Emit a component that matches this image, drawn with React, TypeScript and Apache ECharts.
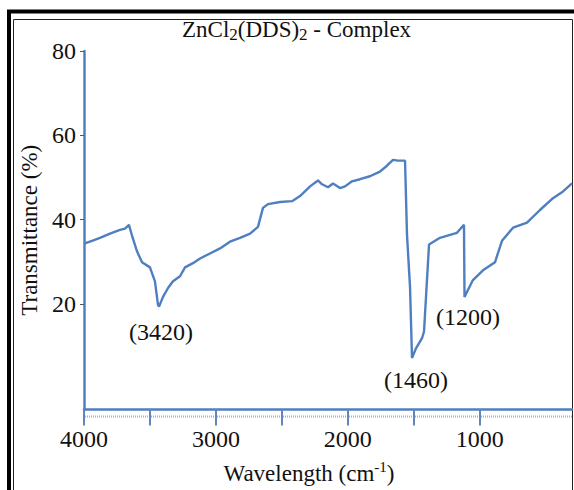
import React, { useEffect, useRef } from "react";
import * as echarts from "echarts";

const wavenumbers = [
  4000, 3939, 3879, 3803, 3727, 3689, 3659, 3636, 3598, 3560, 3500, 3462, 3439, 3431,
  3401, 3363, 3325, 3272, 3234, 3174, 3120, 3045, 2969, 2893, 2817, 2741, 2681, 2643,
  2605, 2514, 2423, 2362, 2286, 2226, 2195, 2150, 2112, 2059, 2021, 1968, 1907, 1832,
  1756, 1703, 1657, 1619, 1566, 1551, 1528, 1513, 1483, 1437, 1422, 1384, 1301, 1225,
  1172, 1119, 1115, 1051, 975, 884, 831, 747, 641, 543, 444, 368, 300,
];
const transmittance = [
  34.3, 35.0, 35.7, 36.7, 37.6, 37.9, 38.8, 36.2, 32.5, 29.9, 28.7, 25.4, 19.8, 19.4,
  21.7, 23.8, 25.4, 26.6, 28.7, 29.7, 30.8, 32.0, 33.2, 34.8, 35.7, 36.7, 38.3, 42.8,
  43.7, 44.2, 44.4, 45.6, 47.9, 49.3, 48.4, 47.7, 48.6, 47.5, 47.9, 49.1, 49.6, 50.3,
  51.4, 52.8, 54.2, 54.0, 54.0, 36.4, 24.0, 7.2, 9.5, 11.9, 13.5, 34.1, 35.7, 36.4,
  36.9, 38.8, 21.7, 25.7, 28.0, 29.9, 35.0, 38.1, 39.3, 42.3, 45.1, 46.7, 48.6,
];
const xTickValues = [4000, 3500, 3000, 2500, 2000, 1500, 1000];
const xLabelValues = [4000, 3000, 2000, 1000];
const yTickValues = [20, 40, 60, 80];
const peakLabels = ["(3420)", "(1460)", "(1200)"];

const SERIF = "'Liberation Serif', 'Times New Roman', serif";
const BLUE = "#4f7fc0";

export default function App() {
  const ref = useRef<HTMLDivElement>(null);
  useEffect(() => {
    if (!ref.current) return;
    const chart = echarts.init(ref.current, undefined, { renderer: "svg" });
    const data = wavenumbers.map((w, i) => [w, transmittance[i]]);
    const textBase = { fontFamily: SERIF, fontWeight: "normal" as const, color: "#111" };
    chart.setOption({
      animation: false,
      backgroundColor: "#ffffff",
      title: {
        text: "{n|ZnCl}{s|2}{n|(DDS)}{s|2}{n| - Complex}",
        left: 182,
        top: 15,
        padding: 0,
        textStyle: {
          fontWeight: "normal",
          rich: {
            n: { ...textBase, fontSize: 23, lineHeight: 28 },
            s: { ...textBase, fontSize: 17, lineHeight: 25, verticalAlign: "bottom" },
          },
        },
      },
      grid: { left: 84, right: 2, top: 51, bottom: 76, containLabel: false },
      xAxis: {
        type: "value",
        min: 300,
        max: 4000,
        inverse: true,
        name: "{n|Wavelength (cm}{s|-1}{n|)}",
        nameLocation: "middle",
        nameGap: 50,
        nameTextStyle: {
          fontWeight: "normal",
          padding: [0, 38, 0, 0],
          rich: {
            n: { ...textBase, fontSize: 23, lineHeight: 28 },
            s: { ...textBase, fontSize: 15, lineHeight: 28, verticalAlign: "top" },
          },
        },
        axisLine: { show: true, onZero: false, lineStyle: { color: BLUE, width: 2.5 } },
        axisTick: {
          show: true,
          length: 16,
          customValues: xTickValues,
          lineStyle: { color: "#5f86bf", width: 2 },
        },
        axisLabel: {
          customValues: xLabelValues,
          margin: 17,
          ...textBase,
          fontSize: 24,
          formatter: (v: number) => String(v),
        },
        splitLine: { show: false },
      },
      yAxis: {
        type: "value",
        min: -5,
        max: 80,
        name: "Transmittance (%)",
        nameLocation: "middle",
        nameGap: 40,
        nameTextStyle: { ...textBase, fontSize: 23 },
        axisLine: { show: true, onZero: false, lineStyle: { color: BLUE, width: 2.5 } },
        axisTick: { show: true, length: 4, customValues: yTickValues, lineStyle: { color: "#555", width: 1 } },
        axisLabel: {
          customValues: yTickValues,
          margin: 8,
          ...textBase,
          fontSize: 24,
          formatter: (v: number) => String(v),
        },
        splitLine: { show: false },
      },
      graphic: [
        {
          type: "rect",
          silent: true,
          shape: { x: 9, y: 11.5, width: 700, height: 700 },
          style: { fill: "none", stroke: "#000", lineWidth: 4 },
        },
        {
          type: "rect",
          silent: true,
          shape: { x: 13.5, y: 19.5, width: 559, height: 700 },
          style: { fill: "none", stroke: "#222", lineWidth: 1 },
        },
        {
          type: "line",
          silent: true,
          z: -1,
          shape: { x1: 85, y1: 416.5, x2: 572, y2: 416.5 },
          style: { stroke: "#b0b0b0", lineWidth: 2, lineDash: [1, 1] },
        },
        {
          type: "text",
          silent: true,
          style: { text: peakLabels[0], x: 161, y: 332, align: "center", verticalAlign: "middle", fontFamily: SERIF, fontSize: 24, fill: "#111" },
        },
        {
          type: "text",
          silent: true,
          style: { text: peakLabels[1], x: 416, y: 380, align: "center", verticalAlign: "middle", fontFamily: SERIF, fontSize: 24, fill: "#111" },
        },
        {
          type: "text",
          silent: true,
          style: { text: peakLabels[2], x: 468, y: 317, align: "center", verticalAlign: "middle", fontFamily: SERIF, fontSize: 24, fill: "#111" },
        },
      ],
      series: [
        {
          type: "line",
          data,
          symbol: "none",
          smooth: false,
          lineStyle: { color: BLUE, width: 2.4 },
        },
      ],
    });
    return () => chart.dispose();
  }, []);
  return (
    <div
      ref={ref}
      style={{ position: "fixed", left: 0, top: 0, width: 574, height: 490, background: "#fff" }}
    />
  );
}
